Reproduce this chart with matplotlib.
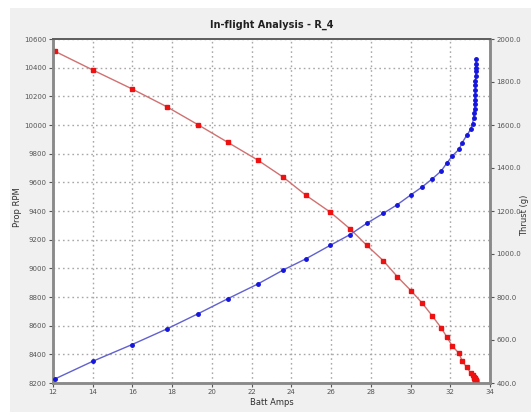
import matplotlib
matplotlib.use("Agg")
import matplotlib.pyplot as plt
from matplotlib.patches import Rectangle
from matplotlib.ticker import FormatStrFormatter

# ---- data ----
batt_amps = [12.1, 14.0, 15.96, 17.72, 19.3, 20.8, 22.3, 23.6, 24.74, 25.95,
             26.95, 27.8, 28.63, 29.34, 30.03, 30.6, 31.1, 31.54, 31.82, 32.1,
             32.44, 32.6, 32.83, 33.03, 33.12, 33.17, 33.2, 33.22, 33.23, 33.24,
             33.25, 33.26, 33.27, 33.27, 33.28, 33.28, 33.29, 33.29, 33.3]
prop_rpm = [10514, 10384, 10253, 10128, 10002, 9879, 9756, 9635, 9509, 9393,
            9276, 9160, 9053, 8941, 8843, 8755, 8667, 8585, 8523, 8458,
            8407, 8353, 8309, 8271, 8255, 8243, 8238, 8234, 8231, 8228,
            8226, 8224, 8222, 8220, 8218, 8216, 8214, 8213, 8211]
thrust_g = [419, 501, 578, 651, 722, 792, 860, 926, 978, 1040,
            1090, 1143, 1189, 1230, 1276, 1313, 1350, 1386, 1422, 1456,
            1487, 1518, 1552, 1580, 1605, 1633, 1655, 1675, 1697, 1718,
            1740, 1762, 1784, 1805, 1827, 1849, 1867, 1886, 1906]

x_ticks = list(range(12, 35, 2))
rpm_ticks = list(range(8200, 10601, 200))
thrust_ticks = list(range(400, 2001, 200))

title = "In-flight Analysis - R_4"

W, H = 531, 412
fig = plt.figure(figsize=(W / 100, H / 100), dpi=100, facecolor="white")
# gray panel background (white strip on top and left)
fig.patches.append(Rectangle((10 / W, 0), 1 - 10 / W, (H - 8) / H,
                             transform=fig.transFigure, facecolor="#f0f0f0",
                             edgecolor="none", zorder=-10))

l, r, b, t = 53 / W, 490 / W, (H - 383) / H, (H - 39) / H
ax = fig.add_axes([l, b, r - l, t - b])
ax.set_facecolor("white")
ax2 = ax.twinx()

spine_c = "#8a8a8a"
for a in (ax, ax2):
    for s in a.spines.values():
        s.set_color(spine_c)
        s.set_linewidth(1.8)
    a.spines["top"].set_color("#606060")
    a.spines["top"].set_linewidth(1.4)

ax.set_xlim(12, 34)
ax.set_ylim(8200, 10600)
ax2.set_ylim(400, 2000)
ax.set_xticks(x_ticks)
ax.set_yticks(rpm_ticks)
ax2.set_yticks(thrust_ticks)
ax2.yaxis.set_major_formatter(FormatStrFormatter("%.1f"))

ax.grid(True, color="#a8a8a8", linestyle=(0, (1.2, 2.2)), linewidth=1.0)
ax.set_axisbelow(True)

tick_c = "#555555"
for a in (ax, ax2):
    a.tick_params(labelsize=5, colors=tick_c, length=3, width=0.8, pad=1.5)

ax.plot(batt_amps, prop_rpm, color="#d07070", linewidth=1.0, marker="s",
        markersize=3.5, markerfacecolor="#ee1111", markeredgecolor="#ee1111",
        zorder=3)
ax2.plot(batt_amps, thrust_g, color="#6060d0", linewidth=1.0, marker="o",
         markersize=2.5, markerfacecolor="#1515dd", markeredgecolor="#1515dd",
         zorder=3)

ax.set_title(title, fontsize=7, fontweight="bold", color="#202020", pad=8)
ax.set_xlabel("Batt Amps", fontsize=6, color="#303030", labelpad=2)
fig.text(18 / W, 1 - 207 / H, "Prop RPM", rotation=90, fontsize=6,
         color="#303030", ha="center", va="center")
fig.text(525 / W, 1 - 215 / H, "Thrust (g)", rotation=90, fontsize=6,
         color="#303030", ha="center", va="center")

fig.savefig("out.png", dpi=100, facecolor=fig.get_facecolor())
